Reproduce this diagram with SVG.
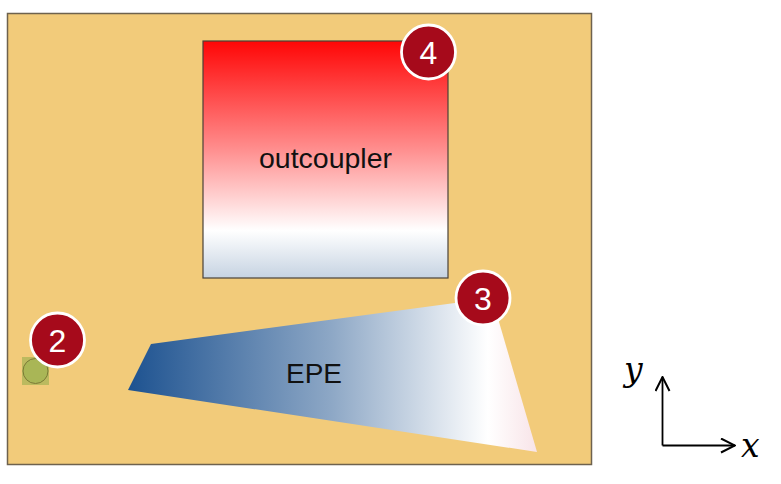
<svg xmlns="http://www.w3.org/2000/svg" width="781" height="484" viewBox="0 0 781 484">
<defs>
<linearGradient id="gOut" x1="0" y1="0" x2="0" y2="1">
<stop offset="0" stop-color="#ff0606"/>
<stop offset="0.45" stop-color="#ff8c8c"/>
<stop offset="0.8" stop-color="#ffffff"/>
<stop offset="1" stop-color="#c6d3e2"/>
</linearGradient>
<linearGradient id="gEpe" gradientUnits="userSpaceOnUse" x1="128" y1="0" x2="537" y2="0">
<stop offset="0" stop-color="#1d5290"/>
<stop offset="0.5" stop-color="#8ea8c6"/>
<stop offset="0.88" stop-color="#ffffff"/>
<stop offset="1" stop-color="#f8e4e8"/>
</linearGradient>
<marker id="arr" viewBox="0 0 16 16" refX="15" refY="8" markerWidth="16" markerHeight="16" markerUnits="userSpaceOnUse" orient="auto">
<path d="M1,1 L15,8 L1,15" fill="none" stroke="#000" stroke-width="2"/>
</marker>
</defs>
<style>
.badge circle{fill:#a60a1b;stroke:#fff;stroke-width:2.8}
.badge text{fill:#fff;font-family:"Liberation Sans",Arial,sans-serif;font-size:32px;text-anchor:middle}
.lbl{fill:#111;font-family:"Liberation Sans",Arial,sans-serif;text-anchor:middle}
.math{fill:#000;font-family:"DejaVu Serif","Liberation Serif",serif;font-style:italic;font-size:33px}
</style>
<rect width="781" height="484" fill="#fff"/>
<g id="board">
<rect x="7.5" y="13.5" width="584" height="451" fill="#f2cb7a" stroke="#6e624e" stroke-width="1.5"/>
</g>
<g id="outcoupler">
<rect x="203" y="41" width="245" height="237" fill="url(#gOut)" stroke="#4a4238" stroke-width="1.2"/>
<text class="lbl" x="325.5" y="168" font-size="28.5">outcoupler</text>
</g>
<g id="epe">
<polygon points="151,344 492,298 537,452 128,390" fill="url(#gEpe)"/>
<text class="lbl" x="314" y="383" font-size="28">EPE</text>
</g>
<g id="source">
<rect x="22" y="357" width="27" height="28" fill="#b6b85c" opacity="0.9"/>
<circle cx="35.5" cy="371" r="12.5" fill="#a9b656" stroke="#7b7a36" stroke-width="1"/>
</g>
<g id="badge2" class="badge">
<circle cx="57.5" cy="340" r="27"/>
<text x="57.5" y="351.5">2</text>
</g>
<g id="badge3" class="badge">
<circle cx="483" cy="298" r="27"/>
<text x="483" y="309.5">3</text>
</g>
<g id="badge4" class="badge">
<circle cx="428.5" cy="52" r="27"/>
<text x="428.5" y="63.5">4</text>
</g>
<g id="connectors">
<line x1="662.5" y1="445.5" x2="662.5" y2="377" stroke="#000" stroke-width="1.8" marker-end="url(#arr)"/>
<line x1="662.5" y1="445.5" x2="735" y2="445.5" stroke="#000" stroke-width="1.8" marker-end="url(#arr)"/>
</g>
<g id="axes-labels">
<text class="math" x="624" y="381">y</text>
<text class="math" x="741" y="457">x</text>
</g>
</svg>
